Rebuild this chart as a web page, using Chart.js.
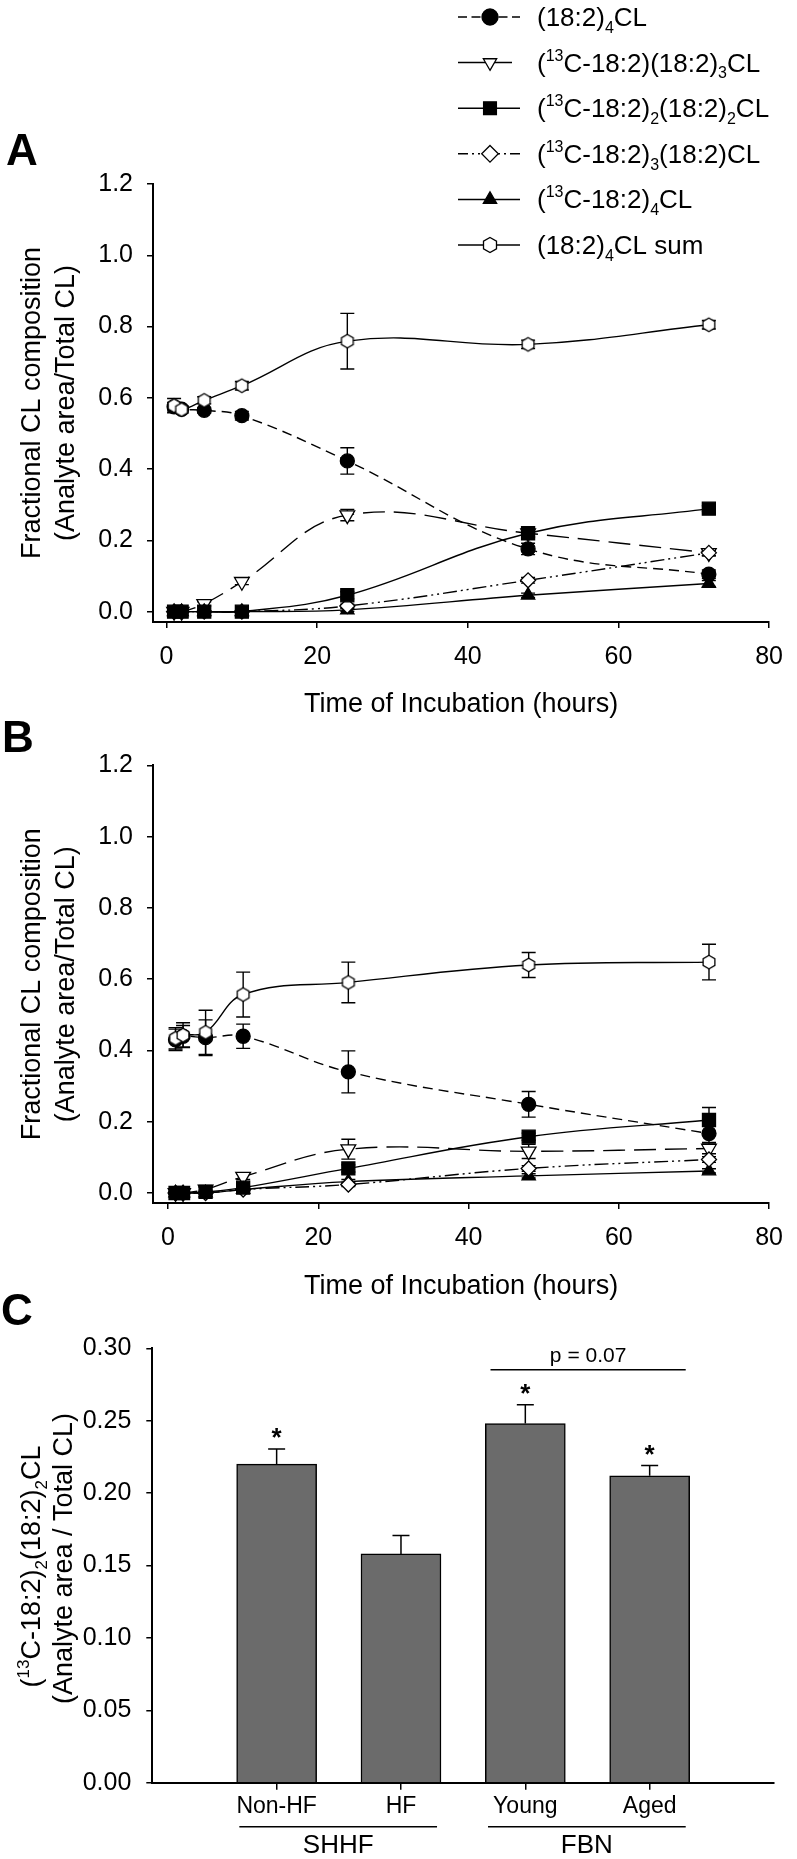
<!DOCTYPE html>
<html><head><meta charset="utf-8">
<script src="https://cdn.jsdelivr.net/npm/chart.js@4.4.1/dist/chart.umd.min.js"></script>
<style>
html,body{margin:0;padding:0;background:#fff;}
body{width:797px;height:1859px;position:relative;overflow:hidden;}
canvas{position:absolute;left:0;}
</style></head><body>
<canvas id="cA" width="797" height="740" style="top:0px"></canvas>
<canvas id="cB" width="797" height="600" style="top:720px"></canvas>
<canvas id="cC" width="797" height="569" style="top:1290px"></canvas>
<script>
// ---------------- DATA ----------------
const timeHours = [1, 2, 5, 10, 24, 48, 72];
const xTicksAB = [0, 20, 40, 60, 80];
const yTicksAB = [0, 0.2, 0.4, 0.6, 0.8, 1.0, 1.2];

const seriesLabels = [
  '(18:2)_{4}CL',
  '(^{13}C-18:2)(18:2)_{3}CL',
  '(^{13}C-18:2)_{2}(18:2)_{2}CL',
  '(^{13}C-18:2)_{3}(18:2)CL',
  '(^{13}C-18:2)_{4}CL',
  '(18:2)_{4}CL sum'
];

// Panel A
const A_cl4     = [0.575, 0.568, 0.565, 0.550, 0.423, 0.176, 0.105];
const A_cl4Err  = [0.012, 0.008, 0.008, 0.012, 0.037, 0.016, 0.012];
const A_c1      = [0.000, 0.000, 0.022, 0.084, 0.271, 0.220, 0.165];
const A_c1Err   = [0.003, 0.003, 0.006, 0.008, 0.016, 0.010, 0.008];
const A_c2      = [0.000, 0.000, 0.000, 0.000, 0.046, 0.220, 0.289];
const A_c2Err   = [0.002, 0.002, 0.002, 0.002, 0.010, 0.012, 0.008];
const A_c3      = [0.000, 0.000, 0.000, 0.000, 0.016, 0.088, 0.165];
const A_c3Err   = [0.002, 0.002, 0.002, 0.002, 0.005, 0.008, 0.008];
const A_c4      = [0.000, 0.000, 0.000, 0.000, 0.005, 0.046, 0.079];
const A_c4Err   = [0.002, 0.002, 0.002, 0.002, 0.004, 0.006, 0.008];
const A_sum     = [0.578, 0.567, 0.593, 0.634, 0.759, 0.750, 0.805];
const A_sumErr  = [0.020, 0.010, 0.010, 0.012, 0.078, 0.012, 0.012];

// Panel B
const B_cl4     = [0.430, 0.440, 0.436, 0.440, 0.340, 0.249, 0.167];
const B_cl4Err  = [0.030, 0.030, 0.050, 0.034, 0.059, 0.036, 0.025];
const B_c1      = [0.000, 0.000, 0.010, 0.046, 0.123, 0.117, 0.125];
const B_c1Err   = [0.003, 0.003, 0.006, 0.008, 0.028, 0.020, 0.015];
const B_c2      = [0.000, 0.000, 0.003, 0.015, 0.069, 0.158, 0.205];
const B_c2Err   = [0.002, 0.002, 0.004, 0.005, 0.010, 0.010, 0.035];
const B_c3      = [0.000, 0.000, 0.000, 0.010, 0.024, 0.069, 0.094];
const B_c3Err   = [0.002, 0.002, 0.002, 0.004, 0.006, 0.008, 0.008];
const B_c4      = [0.000, 0.000, 0.000, 0.010, 0.032, 0.048, 0.062];
const B_c4Err   = [0.002, 0.002, 0.002, 0.004, 0.006, 0.006, 0.006];
const B_sum     = [0.434, 0.443, 0.451, 0.557, 0.591, 0.640, 0.648];
const B_sumErr  = [0.030, 0.035, 0.062, 0.063, 0.057, 0.035, 0.050];

// Panel C
const cCategories = ['Non-HF', 'HF', 'Young', 'Aged'];
const cValues     = [0.220, 0.158, 0.248, 0.212];
const cErrors     = [0.0105, 0.0127, 0.013, 0.007];
const cSignificant = [true, false, true, true];
const cGroups     = [{name: 'SHHF', first: 0, last: 1}, {name: 'FBN', first: 2, last: 3}];
const cPText      = 'p = 0.07';
const yTicksC     = [0, 0.05, 0.10, 0.15, 0.20, 0.25, 0.30];

// ---------------- STYLE ----------------
const FONT = '"Liberation Sans", Arial, Helvetica, sans-serif';
Chart.defaults.font.family = FONT;
Chart.defaults.color = '#000';
Chart.defaults.animation = false;

function hexPath(g, x, y, r) {
  g.beginPath();
  for (let k = 0; k < 6; k++) {
    const a = -Math.PI / 2 + k * Math.PI / 3;
    const px = x + r * Math.cos(a), py = y + r * Math.sin(a);
    if (k === 0) g.moveTo(px, py); else g.lineTo(px, py);
  }
  g.closePath();
}
function hexCanvas(r) {
  const s = 18;
  const c = document.createElement('canvas');
  c.width = s; c.height = s;
  const g = c.getContext('2d');
  hexPath(g, s / 2, s / 2, r);
  g.fillStyle = '#fff'; g.fill();
  g.lineWidth = 1.3; g.strokeStyle = '#000'; g.stroke();
  return c;
}
const HEX = hexCanvas(6.8);

const seriesStyle = [
  {dash: [10, 6], ps: 'circle', rot: 0, r: 7, fill: '#000', order: 3, shape: 'circle'},
  {dash: [22, 9], ps: 'triangle', rot: 180, r: 8.5, fill: '#fff', order: 5, shape: 'triDown'},
  {dash: [], ps: 'rect', rot: 0, r: 9.2, fill: '#000', order: 1, shape: 'square'},
  {dash: [14, 4, 2, 4, 2, 4], ps: 'rectRot', rot: 0, r: 7.5, fill: '#fff', order: 2, shape: 'diamond'},
  {dash: [], ps: 'triangle', rot: 0, r: 7.7, fill: '#000', order: 4, shape: 'triUp'},
  {dash: [], ps: HEX, rot: 0, r: 7, fill: '#fff', order: 0, shape: 'hex'}
];

// ---------------- helpers ----------------
function parseRich(s) {
  const segs = []; const re = /([_^])\{([^}]*)\}/g; let last = 0, m;
  while ((m = re.exec(s))) {
    if (m.index > last) segs.push({t: s.slice(last, m.index), k: ''});
    segs.push({t: m[2], k: m[1]}); last = re.lastIndex;
  }
  if (last < s.length) segs.push({t: s.slice(last), k: ''});
  return segs;
}
function drawRich(ctx, s, x, y, size, align) {
  const segs = parseRich(s); const small = Math.round(size * 0.62);
  let w = 0;
  segs.forEach(g => { ctx.font = (g.k ? small : size) + 'px ' + FONT; g.w = ctx.measureText(g.t).width; w += g.w; });
  let cx = align === 'center' ? x - w / 2 : x;
  ctx.textAlign = 'left'; ctx.textBaseline = 'alphabetic';
  segs.forEach(g => {
    ctx.font = (g.k ? small : size) + 'px ' + FONT;
    const dy = g.k === '_' ? size * 0.26 : (g.k === '^' ? -size * 0.42 : 0);
    ctx.fillText(g.t, cx, y + dy); cx += g.w;
  });
}
function drawShape(ctx, shape, x, y, r, fill) {
  ctx.beginPath();
  if (shape === 'circle') ctx.arc(x, y, r, 0, Math.PI * 2);
  else if (shape === 'square') ctx.rect(x - r, y - r, 2 * r, 2 * r);
  else if (shape === 'diamond') { ctx.moveTo(x, y - r); ctx.lineTo(x + r, y); ctx.lineTo(x, y + r); ctx.lineTo(x - r, y); ctx.closePath(); }
  else if (shape === 'triUp' || shape === 'triDown') {
    const s = shape === 'triUp' ? 1 : -1;
    ctx.moveTo(x, y - s * r); ctx.lineTo(x + r * 0.866, y + s * r * 0.5); ctx.lineTo(x - r * 0.866, y + s * r * 0.5); ctx.closePath();
  } else if (shape === 'hex') hexPath(ctx, x, y, r);
  ctx.fillStyle = fill; ctx.fill();
  ctx.setLineDash([]); ctx.lineWidth = 1.3; ctx.strokeStyle = '#000'; ctx.stroke();
}

function makeDatasets(vals) {
  return vals.map((v, si) => {
    const st = seriesStyle[si];
    return {
      label: seriesLabels[si],
      data: timeHours.map((t, i) => ({x: t, y: v[i]})),
      borderColor: '#000', borderWidth: 1.4, borderDash: st.dash,
      pointStyle: st.ps, pointRotation: st.rot, pointRadius: st.r, pointHoverRadius: st.r,
      pointBackgroundColor: st.fill, pointBorderColor: '#000', pointBorderWidth: 1.3,
      tension: 0.4, fill: false, order: st.order, clip: false
    };
  });
}

function errorBars(vals, errs) {
  return {
    id: 'errbars',
    beforeDatasetsDraw(chart) {
      const {ctx, scales: {x, y}} = chart;
      ctx.save(); ctx.strokeStyle = '#000'; ctx.lineWidth = 1.4; ctx.setLineDash([]);
      vals.forEach((v, si) => v.forEach((val, i) => {
        const e = errs[si][i]; if (!e) return;
        const px = x.getPixelForValue(timeHours[i]);
        const y1 = y.getPixelForValue(val - e), y2 = y.getPixelForValue(val + e);
        ctx.beginPath();
        ctx.moveTo(px, y1); ctx.lineTo(px, y2);
        ctx.moveTo(px - 7, y1); ctx.lineTo(px + 7, y1);
        ctx.moveTo(px - 7, y2); ctx.lineTo(px + 7, y2);
        ctx.stroke();
      }));
      ctx.restore();
    }
  };
}

function panelLetter(letter, x, y) {
  return {
    id: 'letter' + letter,
    afterDraw(chart) {
      const ctx = chart.ctx; ctx.save();
      ctx.font = 'bold 44px ' + FONT; ctx.fillStyle = '#000';
      ctx.textAlign = 'left'; ctx.textBaseline = 'alphabetic';
      ctx.fillText(letter, x, y); ctx.restore();
    }
  };
}

const legendPlugin = {
  id: 'legendA',
  afterDraw(chart) {
    const ctx = chart.ctx; ctx.save();
    const x0 = 458, xm = 490, xt = 537;
    seriesLabels.forEach((lab, i) => {
      const cy = 17 + i * 45.6;
      ctx.strokeStyle = '#000'; ctx.lineWidth = 1.5;
      let dash = [], x1 = 520;
      if (i === 0) dash = [9, 4.5];
      if (i === 1) x1 = 512;
      if (i === 3) dash = [10, 4, 2, 4, 2, 4];
      ctx.setLineDash(dash);
      ctx.beginPath(); ctx.moveTo(x0, cy); ctx.lineTo(x1, cy); ctx.stroke();
      const st = seriesStyle[i];
      const r = {circle: 8, triDown: 7.7, square: 6.4, diamond: 8.3, triUp: 7.7, hex: 7.5}[st.shape];
      drawShape(ctx, st.shape, xm, cy, r, st.fill);
      ctx.fillStyle = '#000';
      drawRich(ctx, lab, xt, cy + 9, 26, 'left');
    });
    ctx.restore();
  }
};

function lineScales(xmin, xh, titlePad) {
  return {
    x: {
      type: 'linear', min: xmin, max: 80,
      afterBuildTicks: s => { s.ticks = xTicksAB.map(v => ({value: v})); },
      afterFit: s => { s.height = xh; },
      ticks: {font: {size: 25}, color: '#000', padding: 14, maxRotation: 0, autoSkip: false},
      border: {display: true, color: '#000', width: 2},
      grid: {display: true, drawOnChartArea: false, drawTicks: true, tickLength: 6, color: '#000', lineWidth: 1.5},
      title: {display: true, text: 'Time of Incubation (hours)', color: '#000', font: {size: 27, lineHeight: 1.2}, padding: {top: 0, bottom: titlePad}}
    },
    y: {
      type: 'linear', min: -0.029, max: 1.2,
      afterBuildTicks: s => { s.ticks = yTicksAB.map(v => ({value: v})); },
      afterFit: s => { s.width = 153; },
      ticks: {font: {size: 25}, color: '#000', padding: 14, callback: v => Number(v).toFixed(1)},
      border: {display: true, color: '#000', width: 2},
      grid: {display: true, drawOnChartArea: false, drawTicks: true, tickLength: 6, color: '#000', lineWidth: 1.5},
      title: {display: true, text: ['Fractional CL composition', '(Analyte area/Total CL)'], color: '#000', font: {size: 27, lineHeight: 1.26}, padding: {top: 15.5, bottom: 0}}
    }
  };
}

// ---------------- Chart A ----------------
const A_vals = [A_cl4, A_c1, A_c2, A_c3, A_c4, A_sum];
const A_errs = [A_cl4Err, A_c1Err, A_c2Err, A_c3Err, A_c4Err, A_sumErr];
new Chart(document.getElementById('cA'), {
  type: 'line',
  data: {datasets: makeDatasets(A_vals)},
  options: {
    responsive: false, devicePixelRatio: 1,
    layout: {padding: {top: 184, right: 18, left: 0, bottom: 0}},
    plugins: {legend: {display: false}, tooltip: {enabled: false}},
    scales: lineScales(-1.8, 118, 18.8)
  },
  plugins: [errorBars(A_vals, A_errs), legendPlugin, panelLetter('A', 6, 165)]
});

// ---------------- Chart B ----------------
const B_vals = [B_cl4, B_c1, B_c2, B_c3, B_c4, B_sum];
const B_errs = [B_cl4Err, B_c1Err, B_c2Err, B_c3Err, B_c4Err, B_sumErr];
const scalesB = lineScales(-2.0, 117, 16.8);
scalesB.y.min = -0.028;
new Chart(document.getElementById('cB'), {
  type: 'line',
  data: {datasets: makeDatasets(B_vals)},
  options: {
    responsive: false, devicePixelRatio: 1,
    layout: {padding: {top: 45.4, right: 18, left: 0, bottom: 0}},
    plugins: {legend: {display: false}, tooltip: {enabled: false}},
    scales: scalesB
  },
  plugins: [errorBars(B_vals, B_errs), panelLetter('B', 2, 32)]
});

// ---------------- Chart C ----------------
const cPlugin = {
  id: 'cExtras',
  afterDraw(chart) {
    const {ctx, scales: {x, y}, chartArea} = chart;
    ctx.save();
    ctx.strokeStyle = '#000'; ctx.fillStyle = '#000'; ctx.lineWidth = 1.5; ctx.setLineDash([]);
    const tops = [];
    cValues.forEach((v, i) => {
      const px = x.getPixelForValue(i + 1);
      const yb = y.getPixelForValue(v), ye = y.getPixelForValue(v + cErrors[i]);
      tops.push(ye);
      ctx.beginPath(); ctx.moveTo(px, yb); ctx.lineTo(px, ye);
      ctx.moveTo(px - 8.5, ye); ctx.lineTo(px + 8.5, ye); ctx.stroke();
      if (cSignificant[i]) {
        ctx.font = 'bold 26px ' + FONT; ctx.textAlign = 'center'; ctx.textBaseline = 'alphabetic';
        ctx.fillText('*', px, ye - 18 + 15);
      }
    });
    // p-value bracket between Young and Aged
    const pl = x.getPixelForValue(3 - 0.28), pr = x.getPixelForValue(4 + 0.29);
    const py = Math.min(tops[2], tops[3]) - 35;
    ctx.beginPath(); ctx.moveTo(pl, py); ctx.lineTo(pr, py); ctx.stroke();
    ctx.font = '21px ' + FONT; ctx.textAlign = 'center'; ctx.textBaseline = 'alphabetic';
    ctx.fillText(cPText, (pl + pr) / 2, py - 8);
    // group underlines and labels
    cGroups.forEach(g => {
      const gl = x.getPixelForValue(g.first + 1 - 0.3), gr = x.getPixelForValue(g.last + 1 + 0.29);
      const gy = chartArea.bottom + 44;
      ctx.beginPath(); ctx.moveTo(gl, gy); ctx.lineTo(gr, gy); ctx.stroke();
      ctx.font = '26px ' + FONT; ctx.textAlign = 'center';
      ctx.fillText(g.name, (gl + gr) / 2, chartArea.bottom + 70.5);
    });
    // y title
    const mid = (chartArea.top + chartArea.bottom) / 2;
    ctx.save(); ctx.translate(40, mid + 1); ctx.rotate(-Math.PI / 2);
    drawRich(ctx, '(^{13}C-18:2)_{2}(18:2)_{2}CL', 0, 0, 27, 'center'); ctx.restore();
    ctx.save(); ctx.translate(72, mid - 7); ctx.rotate(-Math.PI / 2);
    drawRich(ctx, '(Analyte area / Total CL)', 0, 0, 27, 'center'); ctx.restore();
    ctx.restore();
  }
};

new Chart(document.getElementById('cC'), {
  type: 'bar',
  data: {datasets: [{
    label: '(13C-18:2)2(18:2)2CL',
    data: cValues.map((v, i) => ({x: i + 1, y: v})),
    backgroundColor: '#6b6b6b', borderColor: '#000', borderWidth: 1.5, barThickness: 80
  }]},
  options: {
    responsive: false, devicePixelRatio: 1,
    layout: {padding: {top: 58.3, right: 23, left: 0, bottom: 0}},
    plugins: {legend: {display: false}, tooltip: {enabled: false}},
    scales: {
      x: {
        type: 'linear', min: 0, max: 5, offset: false,
        afterBuildTicks: s => { s.ticks = cCategories.map((c, i) => ({value: i + 1})); },
        afterFit: s => { s.height = 76.3; },
        ticks: {font: {size: 23}, color: '#000', padding: 3, maxRotation: 0, autoSkip: false,
          callback: v => cCategories[Math.round(v) - 1] || ''},
        border: {display: true, color: '#000', width: 2},
        grid: {display: true, offset: false, drawOnChartArea: false, drawTicks: true, tickLength: 7, color: '#000', lineWidth: 1.5}
      },
      y: {
        type: 'linear', min: 0, max: 0.30,
        afterBuildTicks: s => { s.ticks = yTicksC.map(v => ({value: v})); },
        afterFit: s => { s.width = 152.3; },
        ticks: {font: {size: 25}, color: '#000', padding: 15, callback: v => Number(v).toFixed(2)},
        border: {display: true, color: '#000', width: 2},
        grid: {display: true, drawOnChartArea: false, drawTicks: true, tickLength: 6, color: '#000', lineWidth: 1.5}
      }
    }
  },
  plugins: [cPlugin, panelLetter('C', 1, 35)]
});
</script>
</body></html>
